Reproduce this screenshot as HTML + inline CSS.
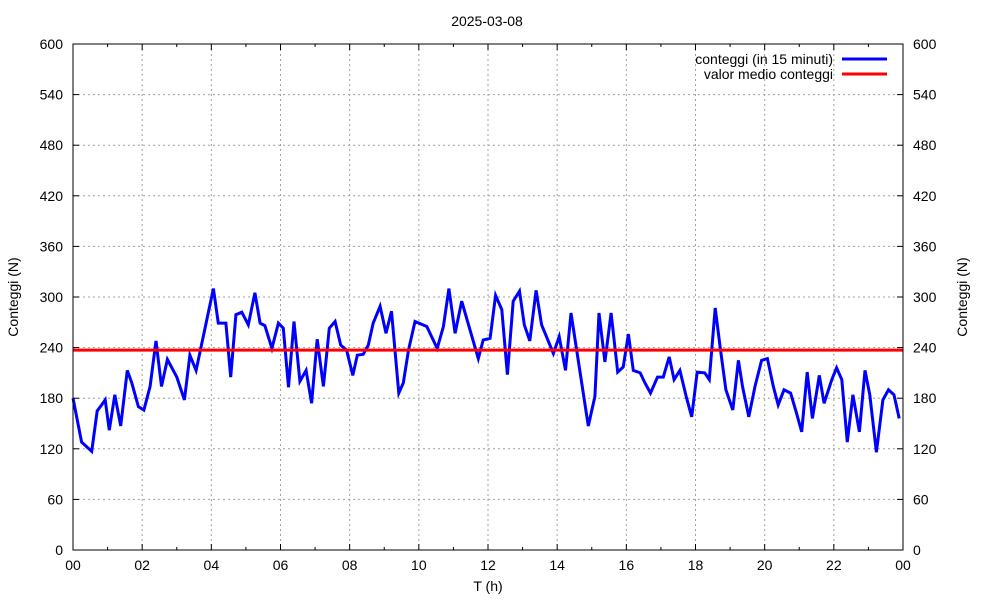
<!DOCTYPE html>
<html><head><meta charset="utf-8"><style>
html,body{margin:0;padding:0;background:#fff;}
svg{display:block;font-family:"Liberation Sans",sans-serif;}
</style></head><body>
<svg id="chart" width="1000" height="600" viewBox="0 0 1000 600" xmlns="http://www.w3.org/2000/svg">
<rect width="1000" height="600" fill="#fff"/>
<text x="487" y="26" font-size="14" text-anchor="middle" fill="#000">2025-03-08</text>
<g id="grid"></g>
<g id="axes"></g>
<g id="series"></g>
<rect x="73" y="44" width="830" height="506" fill="none" stroke="#000" stroke-width="1"/>
<text transform="translate(18,297) rotate(-90)" font-size="14" text-anchor="middle">Conteggi (N)</text>
<text transform="translate(967,297) rotate(-90)" font-size="14" text-anchor="middle">Conteggi (N)</text>
<text x="488" y="591" font-size="14" text-anchor="middle">T (h)</text>
<g>
<text x="833" y="64" font-size="14" text-anchor="end">conteggi (in 15 minuti)</text>
<line x1="842" y1="59" x2="887" y2="59" stroke="#0000ff" stroke-width="3"/>
<text x="833" y="79" font-size="14" text-anchor="end">valor medio conteggi</text>
<line x1="842" y1="74" x2="887" y2="74" stroke="#ff0000" stroke-width="3"/>
</g>
</svg>
<script>
const times = [0,0.25,0.54,0.7,0.83,0.93,1.05,1.21,1.38,1.57,1.70,1.89,2.05,2.23,2.40,2.56,2.73,3.0,3.22,3.38,3.56,4.06,4.2,4.42,4.56,4.71,4.88,5.07,5.26,5.41,5.55,5.75,5.94,6.08,6.23,6.39,6.56,6.74,6.90,7.06,7.24,7.41,7.58,7.74,7.91,8.09,8.22,8.39,8.54,8.68,8.88,9.05,9.21,9.42,9.55,9.70,9.89,10.23,10.53,10.71,10.87,11.05,11.24,11.72,11.86,12.06,12.22,12.40,12.56,12.73,12.91,13.05,13.21,13.39,13.55,13.89,14.06,14.24,14.40,14.90,15.09,15.21,15.38,15.56,15.75,15.91,16.06,16.20,16.40,16.54,16.70,16.90,17.07,17.24,17.38,17.55,17.73,17.89,18.05,18.27,18.40,18.57,18.71,18.88,19.08,19.24,19.36,19.54,19.72,19.91,20.08,20.25,20.39,20.56,20.75,20.91,21.07,21.23,21.38,21.58,21.72,21.94,22.08,22.23,22.39,22.55,22.74,22.90,23.04,23.23,23.42,23.58,23.74,23.89];
const counts = [180,128,117,165,172,178,142,184,147,213,198,170,166,194,248,194,226,205,178,231,213,310,269,269,205,279,282,267,305,269,266,239,269,263,193,271,200,213,174,250,194,263,271,243,237,207,231,232,243,269,289,257,283,186,198,237,271,265,239,265,310,257,295,227,249,251,302,285,208,295,307,267,248,308,267,233,253,213,281,147,182,281,223,281,211,217,256,213,210,198,186,205,205,229,202,213,182,158,211,210,202,287,241,190,166,225,194,158,194,225,227,194,172,190,186,164,140,211,156,207,174,202,216,202,128,184,140,213,184,116,178,190,184,156];
const meanValue = [237];
const yTicks = [0,60,120,180,240,300,360,420,480,540,600];
const xTickHours = [0,2,4,6,8,10,12,14,16,18,20,22,24];
const xTickLabels = ["00","02","04","06","08","10","12","14","16","18","20","22","00"];

const NS="http://www.w3.org/2000/svg";
const L=73,R=903,T=44,B=550;
const xs=h=>L+(h/24)*(R-L);
const ys=v=>B-(v/600)*(B-T);
function mk(tag,attrs,parent){const e=document.createElementNS(NS,tag);for(const k in attrs)e.setAttribute(k,attrs[k]);parent.appendChild(e);return e;}
const grid=document.getElementById('grid'),axes=document.getElementById('axes'),series=document.getElementById('series');

yTicks.forEach((v,i)=>{
  const y=ys(v);
  if(v>0&&v<600){
    const g=mk('line',{x1:L,y1:y,x2:R,y2:y,stroke:'#a0a0a0','stroke-width':1,'stroke-dasharray':'2,3'},grid);
    
    
  }
  const t1=mk('line',{x1:L,y1:y,x2:L+6,y2:y,stroke:'#000'},axes);
  
  
  const t2=mk('line',{x1:R-6,y1:y,x2:R,y2:y,stroke:'#000'},axes);
  
  
  const a=mk('text',{x:63,y:y+5,'font-size':14,'text-anchor':'end'},axes);
  a.textContent=v;
  
  
  const b=mk('text',{x:913,y:y+5,'font-size':14,'text-anchor':'start'},axes);
  b.textContent=v;
  
  
});
for(let h=1;h<24;h+=2){
  const x=xs(h);
  const m1=mk('line',{x1:x,y1:B,x2:x,y2:B-3,stroke:'#000'},axes);
  
  
  const m2=mk('line',{x1:x,y1:T,x2:x,y2:T+3,stroke:'#000'},axes);
  
  
}
xTickHours.forEach((h,i)=>{
  const x=xs(h);
  if(h>0&&h<24){
    const g=mk('line',{x1:x,y1:T,x2:x,y2:B,stroke:'#a0a0a0','stroke-width':1,'stroke-dasharray':'2,3'},grid);
    
    
  }
  const t1=mk('line',{x1:x,y1:B,x2:x,y2:B-6,stroke:'#000'},axes);
  
  
  const t2=mk('line',{x1:x,y1:T,x2:x,y2:T+6,stroke:'#000'},axes);
  
  
  const lb=mk('text',{x:x,y:570,'font-size':14,'text-anchor':'middle'},axes);
  lb.textContent=xTickLabels[i];
  
  
});
const pts=times.map((t,i)=>xs(t).toFixed(1)+','+ys(counts[i]).toFixed(1)).join(' ');
const pl=mk('polyline',{points:pts,fill:'none',stroke:'#0000ff','stroke-width':3,'stroke-linejoin':'miter'},series);


const ml=mk('line',{x1:L,y1:ys(meanValue[0]),x2:R,y2:ys(meanValue[0]),stroke:'#ff0000','stroke-width':3},series);


</script>
</body></html>
